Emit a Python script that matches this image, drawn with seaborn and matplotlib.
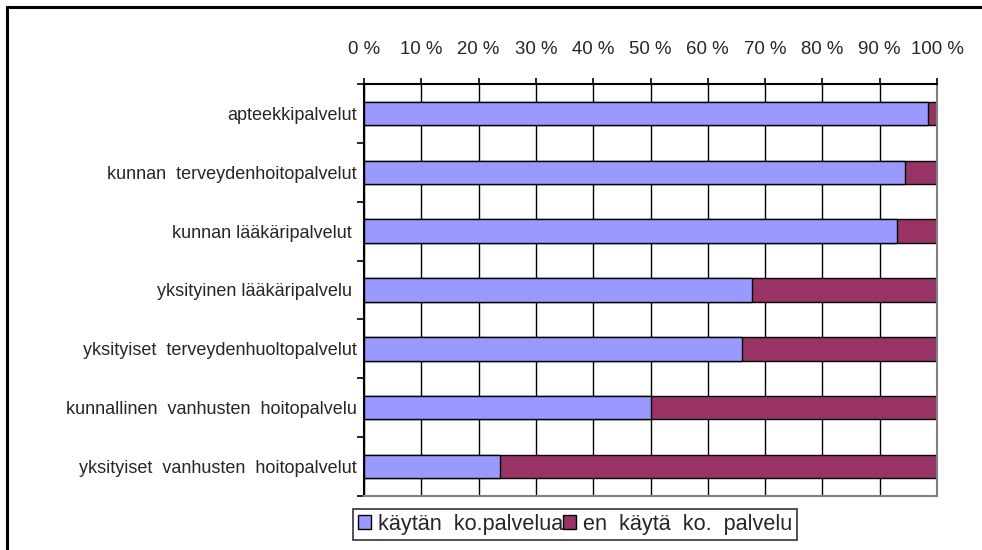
import matplotlib
matplotlib.use("Agg")
import matplotlib.pyplot as plt
import seaborn as sns
import pandas as pd
from matplotlib.patches import Patch
from matplotlib.lines import Line2D

categories = [
    "apteekkipalvelut",
    "kunnan  terveydenhoitopalvelut",
    "kunnan lääkäripalvelut ",
    "yksityinen lääkäripalvelu ",
    "yksityiset  terveydenhuoltopalvelut",
    "kunnallinen  vanhusten  hoitopalvelu",
    "yksityiset  vanhusten  hoitopalvelut",
]
uses = [98.4, 94.5, 93.0, 67.7, 66.0, 50.0, 23.7]
not_uses = [100 - u for u in uses]
series_names = ["käytän  ko.palvelua", "en  käytä  ko.  palvelu"]
x_ticks = [0, 10, 20, 30, 40, 50, 60, 70, 80, 90, 100]
x_tick_labels = [f"{t} %" for t in x_ticks]

blue = "#9999FF"
maroon = "#993366"

sns.set_theme(style="white")
plt.rcParams["font.family"] = ["Liberation Sans", "DejaVu Sans"]

df = pd.DataFrame({
    "cat": categories,
    "uses": uses,
    "total": [u + n for u, n in zip(uses, not_uses)],
})

fig = plt.figure(figsize=(9.82, 5.5), dpi=100)
ax = fig.add_axes([364 / 982, 1 - 496 / 550, (937 - 364) / 982, (496 - 84) / 550])

sns.barplot(data=df, y="cat", x="total", color=maroon, saturation=1, width=0.4,
            edgecolor="black", linewidth=1.0, ax=ax, orient="h")
sns.barplot(data=df, y="cat", x="uses", color=blue, saturation=1, width=0.4,
            edgecolor="black", linewidth=1.0, ax=ax, orient="h")

ax.set_xlim(0, 100)
ax.set_ylim(6.5, -0.5)
ax.set_xlabel("")
ax.set_ylabel("")

ax.xaxis.tick_top()
ax.set_xticks(x_ticks)
ax.set_xticklabels(x_tick_labels, fontsize=13.4)
ax.tick_params(axis="x", which="major", direction="out", length=4.5, width=1.2,
               color="black", pad=14, top=True, bottom=False)

ax.set_yticks(range(len(categories)))
ax.set_yticklabels(categories, fontsize=13.0)
ax.tick_params(axis="y", which="major", length=0, pad=5)
ax.set_yticks([i - 0.5 for i in range(len(categories) + 1)], minor=True)
ax.tick_params(axis="y", which="minor", direction="out", length=5, width=1.2,
               color="black", left=True)

ax.grid(axis="x", color="black", linewidth=1.0)
ax.grid(axis="y", visible=False)
ax.set_axisbelow(True)

for side in ["left", "top"]:
    ax.spines[side].set_visible(True)
    ax.spines[side].set_color("black")
    ax.spines[side].set_linewidth(1.5)
for side in ["right", "bottom"]:
    ax.spines[side].set_visible(True)
    ax.spines[side].set_color("#808080")
    ax.spines[side].set_linewidth(1.5)

handles = [
    Patch(facecolor=blue, edgecolor="black", linewidth=1.0),
    Patch(facecolor=maroon, edgecolor="black", linewidth=1.0),
]
leg = fig.legend(handles, series_names, loc="upper left",
                 bbox_to_anchor=(353 / 982, 1 - 509 / 550), ncol=2,
                 fontsize=15.6, frameon=True, fancybox=False, shadow=False,
                 handlelength=0.62, handleheight=0.62, handletextpad=0.3,
                 columnspacing=0.0, borderpad=0.22, borderaxespad=0.0)
leg.get_frame().set_edgecolor("black")
leg.get_frame().set_linewidth(1.2)

# outer chart frame (top and left edges visible)
fig.add_artist(Line2D([7 / 982, 1.0], [1 - 7 / 550, 1 - 7 / 550],
                      transform=fig.transFigure, color="black", linewidth=2.2))
fig.add_artist(Line2D([7 / 982, 7 / 982], [0.0, 1 - 7 / 550],
                      transform=fig.transFigure, color="black", linewidth=2.2))

fig.savefig("out.png", dpi=100, facecolor="white")
